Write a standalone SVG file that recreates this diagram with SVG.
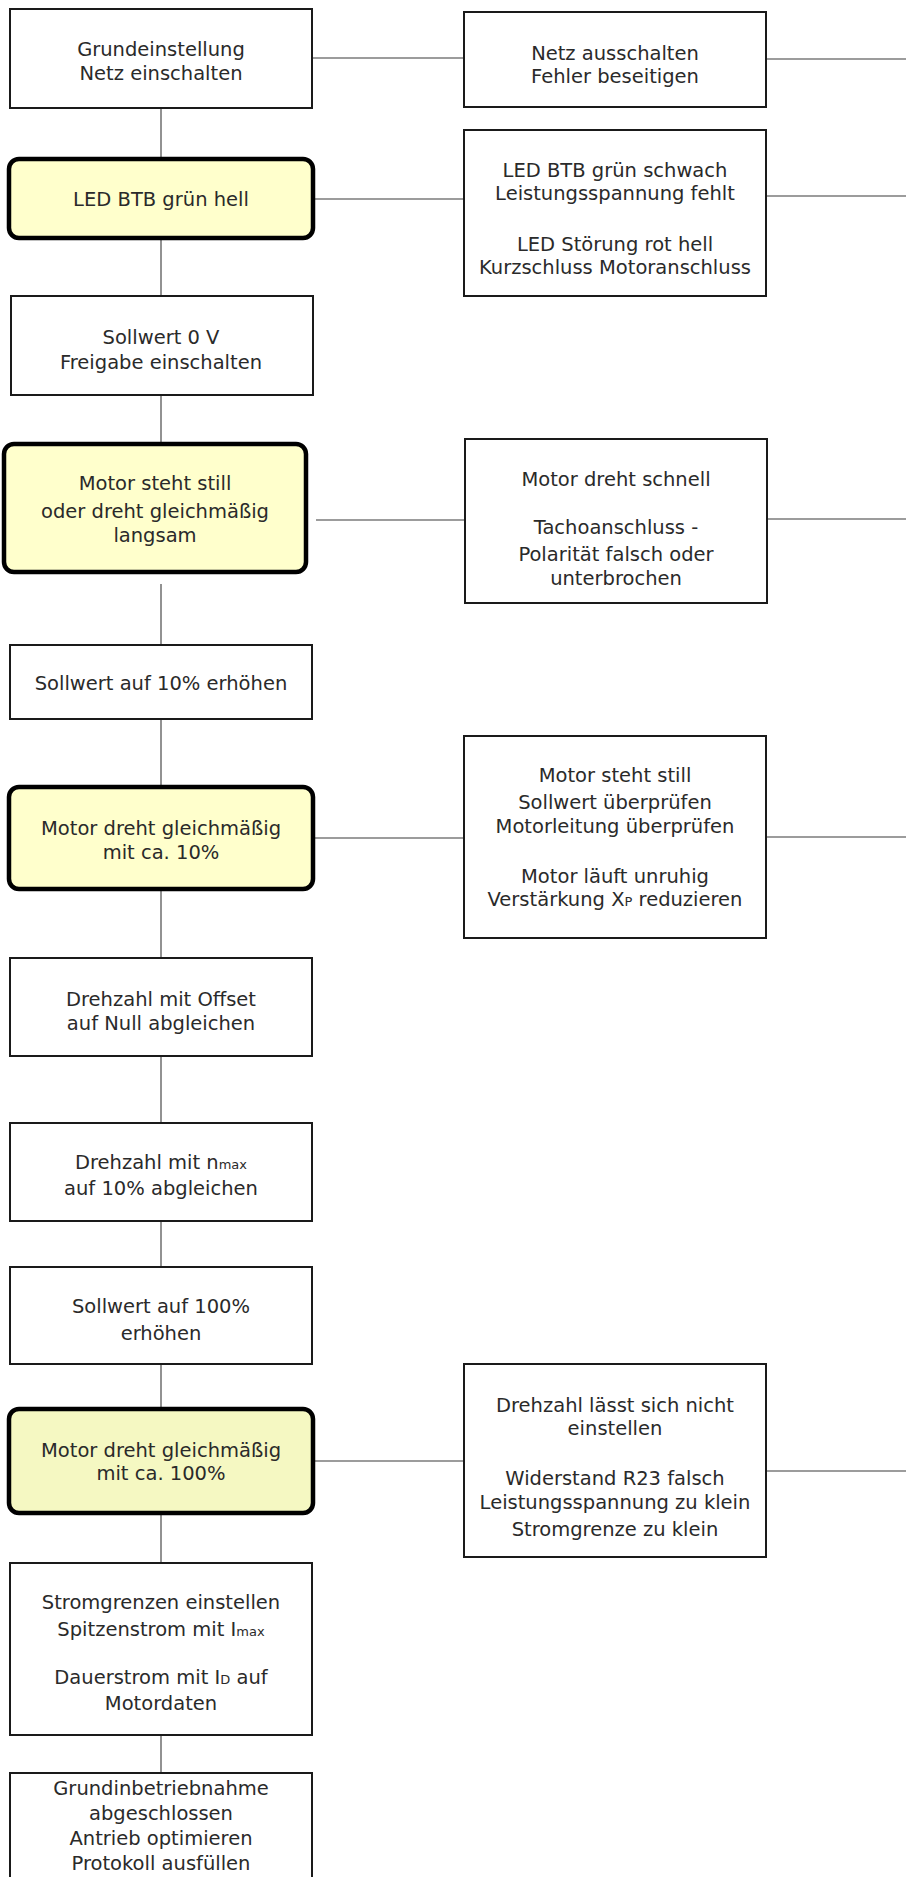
<svg xmlns="http://www.w3.org/2000/svg" width="906" height="1877" viewBox="0 0 906 1877">
<style>
.box{fill:#ffffff;stroke:#1a1a1a;stroke-width:2}
.dec{fill:#ffffcc;stroke:#000000;stroke-width:4.5}
.dec2{fill:#f5f8c2;stroke:#000000;stroke-width:4.5}
.ln{stroke:#3a3a3a;stroke-width:1.1;fill:none}
text{font-family:"DejaVu Sans","Liberation Sans",sans-serif;font-size:19.5px;fill:#2a2a2a;text-anchor:middle}
.sub{font-size:13px}
</style>
<rect width="906" height="1877" fill="#ffffff"/>
<g id="connectors">
<path class="ln" d="M161 108V158M161 239V296M161 395V443M161 584V645M161 719V786M161 890V958M161 1056V1123M161 1221V1267M161 1364V1408M161 1514V1563M161 1735V1773"/>
<path class="ln" d="M312 58H464M766 59H906M314 199H464M766 196H906M316 520H465M767 519H906M314 838H464M766 837H906M314 1461H464M766 1471H906"/>
</g>
<g id="n1"><rect class="box" x="10" y="9" width="302" height="99"/><text x="161" y="56">Grundeinstellung</text><text x="161" y="80">Netz einschalten</text></g>
<g id="n2"><rect class="box" x="464" y="12" width="302" height="95"/><text x="615" y="60">Netz ausschalten</text><text x="615" y="83">Fehler beseitigen</text></g>
<g id="n3"><rect class="dec" x="9" y="159" width="304" height="79" rx="10"/><text x="161" y="206">LED BTB grün hell</text></g>
<g id="n4"><rect class="box" x="464" y="130" width="302" height="166"/><text x="615" y="177">LED BTB grün schwach</text><text x="615" y="200">Leistungsspannung fehlt</text><text x="615" y="251">LED Störung rot hell</text><text x="615" y="274">Kurzschluss Motoranschluss</text></g>
<g id="n5"><rect class="box" x="11" y="296" width="302" height="99"/><text x="161" y="344">Sollwert 0 V</text><text x="161" y="369">Freigabe einschalten</text></g>
<g id="n6"><rect class="dec" x="4" y="444" width="302" height="128" rx="10"/><text x="155" y="490">Motor steht still</text><text x="155" y="518">oder dreht gleichmäßig</text><text x="155" y="542">langsam</text></g>
<g id="n7"><rect class="box" x="465" y="439" width="302" height="164"/><text x="616" y="486">Motor dreht schnell</text><text x="616" y="534">Tachoanschluss -</text><text x="616" y="561">Polarität falsch oder</text><text x="616" y="585">unterbrochen</text></g>
<g id="n8"><rect class="box" x="10" y="645" width="302" height="74"/><text x="161" y="690">Sollwert auf 10% erhöhen</text></g>
<g id="n9"><rect class="dec" x="9" y="787" width="304" height="102" rx="10"/><text x="161" y="835">Motor dreht gleichmäßig</text><text x="161" y="859">mit ca. 10%</text></g>
<g id="n10"><rect class="box" x="464" y="736" width="302" height="202"/><text x="615" y="782">Motor steht still</text><text x="615" y="809">Sollwert überprüfen</text><text x="615" y="833">Motorleitung überprüfen</text><text x="615" y="883">Motor läuft unruhig</text><text x="615" y="906">Verstärkung X<tspan class="sub">P</tspan> reduzieren</text></g>
<g id="n11"><rect class="box" x="10" y="958" width="302" height="98"/><text x="161" y="1006">Drehzahl mit Offset</text><text x="161" y="1030">auf Null abgleichen</text></g>
<g id="n12"><rect class="box" x="10" y="1123" width="302" height="98"/><text x="161" y="1169">Drehzahl mit n<tspan class="sub">max</tspan></text><text x="161" y="1195">auf 10% abgleichen</text></g>
<g id="n13"><rect class="box" x="10" y="1267" width="302" height="97"/><text x="161" y="1313">Sollwert auf 100%</text><text x="161" y="1340">erhöhen</text></g>
<g id="n14"><rect class="dec2" x="9" y="1409" width="304" height="104" rx="10"/><text x="161" y="1457">Motor dreht gleichmäßig</text><text x="161" y="1480">mit ca. 100%</text></g>
<g id="n15"><rect class="box" x="464" y="1364" width="302" height="193"/><text x="615" y="1412">Drehzahl lässt sich nicht</text><text x="615" y="1435">einstellen</text><text x="615" y="1485">Widerstand R23 falsch</text><text x="615" y="1509">Leistungsspannung zu klein</text><text x="615" y="1536">Stromgrenze zu klein</text></g>
<g id="n16"><rect class="box" x="10" y="1563" width="302" height="172"/><text x="161" y="1609">Stromgrenzen einstellen</text><text x="161" y="1636">Spitzenstrom mit I<tspan class="sub">max</tspan></text><text x="161" y="1684">Dauerstrom mit I<tspan class="sub">D</tspan> auf</text><text x="161" y="1710">Motordaten</text></g>
<g id="n17"><rect class="box" x="10" y="1773" width="302" height="110"/><text x="161" y="1795">Grundinbetriebnahme</text><text x="161" y="1820">abgeschlossen</text><text x="161" y="1845">Antrieb optimieren</text><text x="161" y="1870">Protokoll ausfüllen</text></g>
</svg>
